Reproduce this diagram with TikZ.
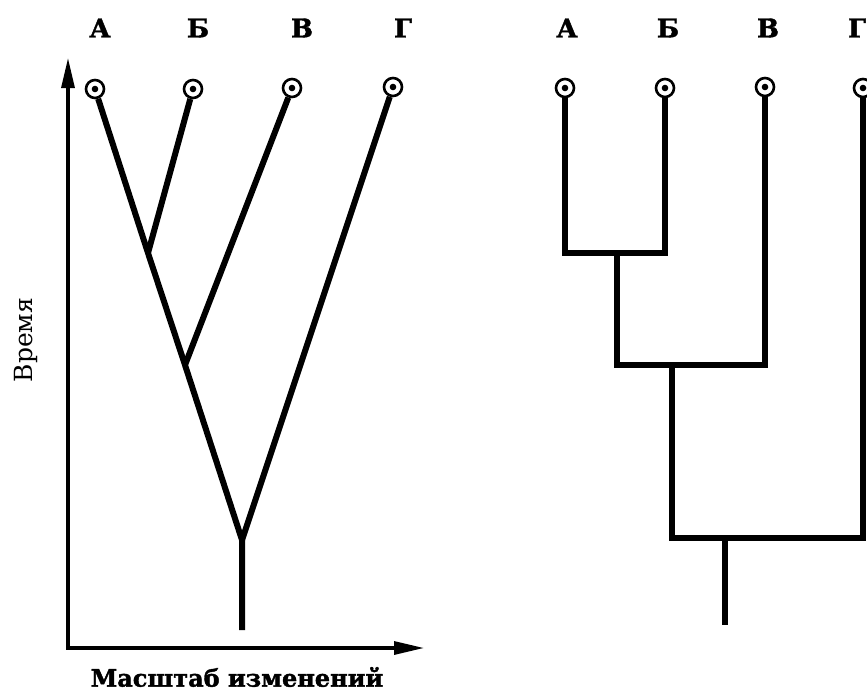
\documentclass[tikz,border=0pt]{standalone}
\usepackage{fontspec}
\setmainfont{DejaVu Serif}
\newfontfamily\heavyfont[FakeBold=1.6]{DejaVu Serif Bold}
\usetikzlibrary{arrows.meta}
\tikzset{
  branch/.style={line width=6pt, line join=round},
  ortho/.style={line width=6.5pt, line join=miter},
  axisline/.style={line width=3.2pt, -{Triangle[length=30pt,width=13pt]}},
  tip/.style={circle, draw, line width=2.6pt, fill=white, minimum size=18pt, inner sep=0pt},
  taxon/.style={font=\heavyfont\fontsize{26}{26}\selectfont, inner sep=0pt}
}
\newcommand{\tipdot}[1]{\fill (#1) circle (3.3pt);}
\begin{document}
\begin{tikzpicture}[x=1pt,y=-1pt]
\useasboundingbox (0,0) rectangle (867,693);
\clip (0,0) rectangle (867,693);

% axes of the left diagram
\coordinate (ytop) at (68,58);
\coordinate (xend) at (424,648);
\draw[axisline] (68,649.6) -- (ytop);
\draw[axisline] (66.4,648) -- (xend);
\node[rotate=90, font=\fontsize{25}{25}\selectfont] (time) at (26,340) {Время};
\node[font=\heavyfont\fontsize{24}{24}\selectfont] (scale) at (237,677) {Масштаб изменений};

% left tree: taxa labels and tips
\node[taxon] (lLA) at (100,28) {А};
\node[taxon] (lLB) at (198,28) {Б};
\node[taxon] (lLV) at (302,28) {В};
\node[taxon] (lLG) at (403,28) {Г};
\coordinate (j1) at (148,253);
\coordinate (j2) at (185,365);
\coordinate (j3) at (242,540);
\coordinate (lroot) at (242,630);
\node[tip] (lA) at (95,89) {};
\node[tip] (lB) at (193,89) {};
\node[tip] (lV) at (292,88) {};
\node[tip] (lG) at (393,87) {};
\draw[branch] (lA) -- (j1) -- (j2) -- (j3) -- (lroot);
\draw[branch] (lB) -- (j1);
\draw[branch] (lV) -- (j2);
\draw[branch] (lG) -- (j3);
\tipdot{lA}\tipdot{lB}\tipdot{lV}\tipdot{lG}

% right tree: taxa labels and tips
\node[taxon] (rLA) at (567,28) {А};
\node[taxon] (rLB) at (668,28) {Б};
\node[taxon] (rLV) at (768,28) {В};
\node[taxon] (rLG) at (857,28) {Г};
\coordinate (k1) at (617,253);
\coordinate (k2) at (617,365);
\coordinate (k3) at (672,365);
\coordinate (k4) at (672,538);
\coordinate (k5) at (725,538);
\coordinate (rroot) at (725,625);
\node[tip] (rA) at (565,88) {};
\node[tip] (rB) at (665,88) {};
\node[tip] (rV) at (765,87) {};
\node[tip] (rG) at (863,88) {};
\draw[ortho] (rA) |- (k1) -| (rB);
\draw[ortho] (k1) -- (k2) -| (rV);
\draw[ortho] (k3) -- (k4) -| (rG);
\draw[ortho] (k5) -- (rroot);
\tipdot{rA}\tipdot{rB}\tipdot{rV}\tipdot{rG}
\end{tikzpicture}
\end{document}
